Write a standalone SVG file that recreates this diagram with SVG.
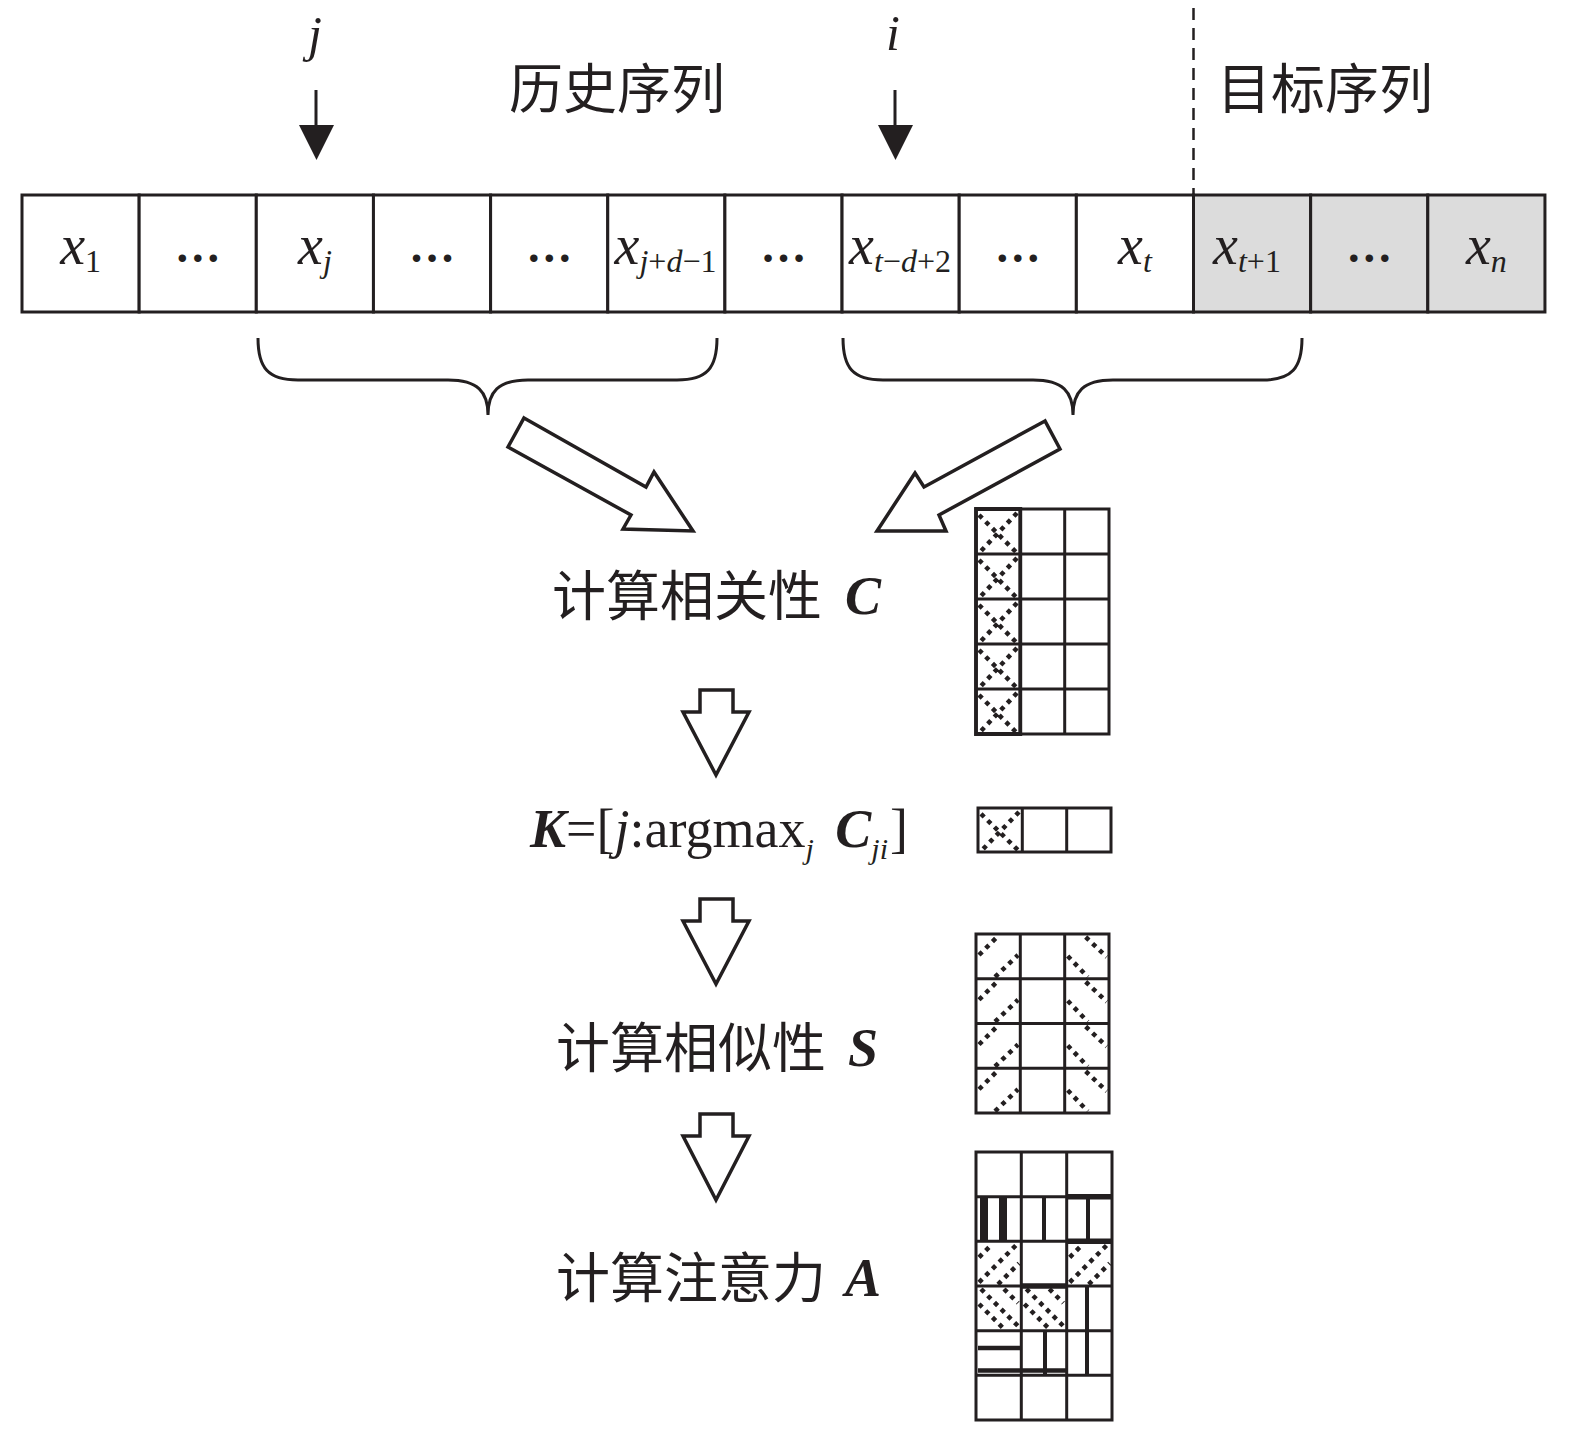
<svg xmlns="http://www.w3.org/2000/svg" xmlns:xlink="http://www.w3.org/1999/xlink" width="1575" height="1433" viewBox="0 0 1575 1433">
<style>
.ser{font-family:"Liberation Serif","Times New Roman",serif;fill:#231f20}
.cjk{font-family:"Noto Sans CJK SC","Noto Sans CJK JP",sans-serif;fill:#231f20}
.it{font-style:italic}
.bi{font-style:italic;font-weight:bold}
.ell{font-family:"Liberation Serif","Times New Roman",serif;fill:#231f20;font-weight:bold;font-size:46px}
.cell{fill:#fff;stroke:#231f20;stroke-width:3}
.gray{fill:#dcdcdc}
.ln{fill:none;stroke:#231f20;stroke-width:3}
.hol{fill:#fff;stroke:#231f20;stroke-width:3.5;stroke-linejoin:miter}
.dot{fill:none;stroke:#231f20;stroke-width:4.5;stroke-dasharray:4.5 5}
.bar{fill:none;stroke:#231f20}
</style>
<defs>
<g id="xcell"><path class="dot" d="M3,6 L40,43 M41,4 L4,43"/></g>
<g id="sfwd"><path class="dot" d="M3,21 L21,3 M19,43 L42,21"/></g>
<g id="sback"><path class="dot" d="M21,3 L42,23 M3,22 L23,43"/></g>
<g id="afwd"><path class="dot" d="M3,16 L16,3 M3,41 L41,3 M22,43 L43,22"/></g>
<g id="aback"><path class="dot" d="M5,3 L42,40 M3,18 L28,43 M28,3 L42,17"/></g>
</defs>
<rect width="1575" height="1433" fill="#fff"/>

<!-- top labels -->
<g id="label-j">
<text class="ser it" x="315" y="51" font-size="50" text-anchor="middle">j</text>
<path class="ln" d="M316,90 V128"/>
<polygon points="299,125 334,125 316.5,160" fill="#231f20"/>
</g>
<g id="label-i">
<text class="ser it" x="893" y="50" font-size="50" text-anchor="middle">i</text>
<path class="ln" d="M895,90 V128"/>
<polygon points="878,125 913,125 895.5,160" fill="#231f20"/>
</g>
<g id="label-history"><text class="cjk" x="509" y="109" font-size="54">历史序列</text></g>
<g id="label-target"><text class="cjk" x="1217" y="109" font-size="54">目标序列</text></g>
<g id="divider"><path d="M1193.5,8 V195" fill="none" stroke="#231f20" stroke-width="2.5" stroke-dasharray="12 8"/></g>

<!-- sequence cells -->
<g id="cell-1"><rect class="cell" x="22" y="195" width="117.15" height="117"/><text class="ser" x="80.6" y="264" font-size="56" text-anchor="middle"><tspan class="it">x</tspan><tspan font-size="32" dy="8">1</tspan></text></g>
<g id="cell-2"><rect class="cell" x="139.15" y="195" width="117.15" height="117"/><text class="ell" x="197.7" y="262" text-anchor="middle">…</text></g>
<g id="cell-3"><rect class="cell" x="256.3" y="195" width="117.15" height="117"/><text class="ser" x="314.9" y="264" font-size="56" text-anchor="middle"><tspan class="it">x</tspan><tspan class="it" font-size="32" dy="8">j</tspan></text></g>
<g id="cell-4"><rect class="cell" x="373.45" y="195" width="117.15" height="117"/><text class="ell" x="432" y="262" text-anchor="middle">…</text></g>
<g id="cell-5"><rect class="cell" x="490.6" y="195" width="117.15" height="117"/><text class="ell" x="549.2" y="262" text-anchor="middle">…</text></g>
<g id="cell-6"><rect class="cell" x="607.75" y="195" width="117.15" height="117"/><text class="ser" x="665.5" y="264" font-size="56" text-anchor="middle"><tspan class="it">x</tspan><tspan font-size="32" dy="8"><tspan class="it">j</tspan>+<tspan class="it">d</tspan>−1</tspan></text></g>
<g id="cell-7"><rect class="cell" x="724.9" y="195" width="117.15" height="117"/><text class="ell" x="783.5" y="262" text-anchor="middle">…</text></g>
<g id="cell-8"><rect class="cell" x="842.05" y="195" width="117.15" height="117"/><text class="ser" x="900" y="264" font-size="56" text-anchor="middle"><tspan class="it">x</tspan><tspan font-size="32" dy="8"><tspan class="it">t</tspan>−<tspan class="it">d</tspan>+2</tspan></text></g>
<g id="cell-9"><rect class="cell" x="959.2" y="195" width="117.15" height="117"/><text class="ell" x="1017.8" y="262" text-anchor="middle">…</text></g>
<g id="cell-10"><rect class="cell" x="1076.35" y="195" width="117.15" height="117"/><text class="ser" x="1134.9" y="264" font-size="56" text-anchor="middle"><tspan class="it">x</tspan><tspan class="it" font-size="32" dy="8">t</tspan></text></g>
<g id="cell-11"><rect class="cell gray" x="1193.5" y="195" width="117.15" height="117"/><text class="ser" x="1247" y="264" font-size="56" text-anchor="middle"><tspan class="it">x</tspan><tspan font-size="32" dy="8"><tspan class="it">t</tspan>+1</tspan></text></g>
<g id="cell-12"><rect class="cell gray" x="1310.65" y="195" width="117.15" height="117"/><text class="ell" x="1369.2" y="262" text-anchor="middle">…</text></g>
<g id="cell-13"><rect class="cell gray" x="1427.8" y="195" width="117.15" height="117"/><text class="ser" x="1486.4" y="264" font-size="56" text-anchor="middle"><tspan class="it">x</tspan><tspan class="it" font-size="32" dy="8">n</tspan></text></g>

<!-- connectors -->
<g id="connectors">
<path class="ln" d="M258,338 C258,368 268,380 298,380 L448,380 C478,380 488,392 488,415 C488,392 498,380 528,380 L677,380 C707,380 717,368 717,338"/>
<path class="ln" d="M843,338 C843,368 853,380 883,380 L1033,380 C1063,380 1073,392 1073,415 C1073,392 1083,380 1113,380 L1262,380 C1292,380 1302,368 1302,338"/>
<polygon class="hol" points="524,418 646,487 654,472 693,531 623,529 631,515 508,447"/>
<polygon class="hol" points="1045,421 924,487 915,473 877,531 946,531 939,515 1060,449"/>
<polygon class="hol" points="700,690 733,690 733,712 749,712 716,775 683,712 700,712"/>
<polygon class="hol" points="700,899 733,899 733,921 749,921 716,984 683,921 700,921"/>
<polygon class="hol" points="700,1114 733,1114 733,1136 749,1136 716,1200 683,1136 700,1136"/>
</g>

<!-- step labels -->
<g id="step-C"><text x="552" y="616" font-size="54"><tspan class="cjk">计算相关性</tspan><tspan class="ser bi" x="845" y="614">C</tspan></text></g>
<g id="step-K"><text class="ser" x="530" y="847" font-size="54"><tspan class="bi">K</tspan>=[<tspan class="it">j</tspan>:argmax<tspan class="it" font-size="30" dy="12">j</tspan><tspan dy="-12"> </tspan><tspan class="bi" dx="8">C</tspan><tspan class="it" font-size="30" dy="12">ji</tspan><tspan dy="-12" dx="2">]</tspan></text></g>
<g id="step-S"><text x="556" y="1068" font-size="54"><tspan class="cjk">计算相似性</tspan><tspan class="ser bi" x="848" y="1066">S</tspan></text></g>
<g id="step-A"><text x="556" y="1298" font-size="54"><tspan class="cjk">计算注意力</tspan><tspan class="ser bi" x="845" y="1296">A</tspan></text></g>

<!-- matrix C -->
<g id="matrix-C">
<path class="ln" d="M976,509 H1109 V734 H976 Z M1020.3,509 V734 M1064.7,509 V734 M976,554 H1109 M976,599 H1109 M976,644 H1109 M976,689 H1109"/>
<use href="#xcell" x="976" y="509"/>
<use href="#xcell" x="976" y="554"/>
<use href="#xcell" x="976" y="599"/>
<use href="#xcell" x="976" y="644"/>
<use href="#xcell" x="976" y="689"/>
<path class="bar" stroke-width="3.8" d="M976,509 H1020.3 V734 H976 Z"/>
</g>

<!-- matrix K -->
<g id="matrix-K">
<path class="ln" d="M978,808 H1111 V852 H978 Z M1022.3,808 V852 M1066.7,808 V852"/>
<g transform="translate(978,808) scale(1,0.98)"><use href="#xcell"/></g>
</g>

<!-- matrix S -->
<g id="matrix-S">
<path class="ln" d="M976,934 H1109 V1113 H976 Z M1020.3,934 V1113 M1064.7,934 V1113 M976,978.75 H1109 M976,1023.5 H1109 M976,1068.25 H1109"/>
<use href="#sfwd" x="976" y="934"/>
<use href="#sfwd" x="976" y="978.75"/>
<use href="#sfwd" x="976" y="1023.5"/>
<use href="#sfwd" x="976" y="1068.25"/>
<use href="#sback" x="1064.7" y="934"/>
<use href="#sback" x="1064.7" y="978.75"/>
<use href="#sback" x="1064.7" y="1023.5"/>
<use href="#sback" x="1064.7" y="1068.25"/>
</g>

<!-- matrix A -->
<g id="matrix-A">
<path class="ln" d="M976,1152 H1112 V1420 H976 Z M1021.3,1152 V1420 M1066.7,1152 V1420 M976,1196.7 H1112 M976,1241.3 H1112 M976,1286 H1112 M976,1330.7 H1112 M976,1375.3 H1112"/>
<path class="bar" stroke-width="8" d="M984,1197 V1241 M1003,1197 V1241"/>
<path class="bar" stroke-width="4" d="M1044,1197 V1241 M1088,1197 V1241"/>
<path class="bar" stroke-width="5.5" d="M1066.7,1196.7 H1112 M1066.7,1241.3 H1112 M1021.3,1286 H1066.7"/>
<use href="#afwd" x="976" y="1241.3"/>
<use href="#afwd" x="1066.7" y="1241.3"/>
<use href="#aback" x="976" y="1286"/>
<use href="#aback" x="1021.3" y="1286"/>
<path class="bar" stroke-width="4" d="M1087,1286 V1375 M1045,1331 V1375"/>
<path class="bar" stroke-width="4.5" d="M978,1348 H1021 M978,1370.5 H1066.7"/>
</g>
</svg>
